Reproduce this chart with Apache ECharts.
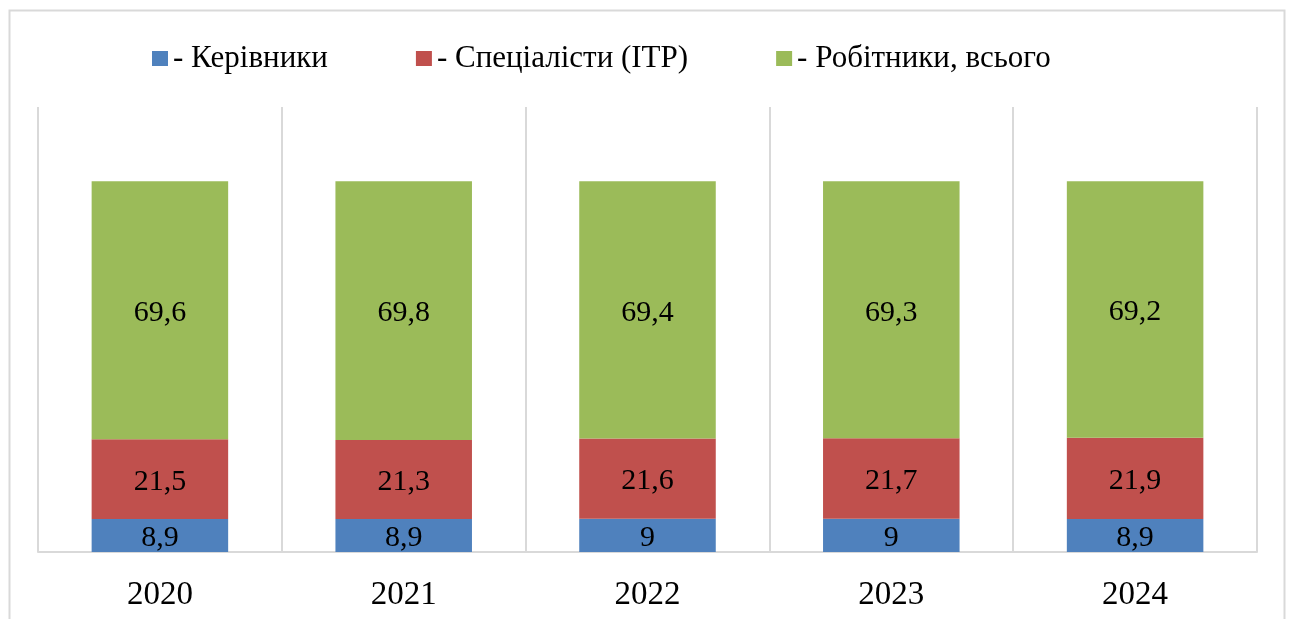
<!DOCTYPE html>
<html>
<head>
<meta charset="utf-8">
<script src="https://cdn.jsdelivr.net/npm/echarts@6/dist/echarts.min.js"></script>
<style>
  html, body { margin: 0; padding: 0; background: #fff; }
  #chart { width: 1289px; height: 619px; }
</style>
</head>
<body>
<div id="chart"></div>
<script>
const years = ['2020', '2021', '2022', '2023', '2024']
const seriesNames = ['- Керівники', '- Спеціалісти (ІТР)', '- Робітники, всього']
const managers = [8.9, 8.9, 9, 9, 8.9]
const specialists = [21.5, 21.3, 21.6, 21.7, 21.9]
const workers = [69.6, 69.8, 69.4, 69.3, 69.2]
const colors = ['#4f81bd', '#c0504d', '#9bbb59']

const font = '"Liberation Serif", "Times New Roman", serif'
const chart = echarts.init(document.getElementById('chart'))

const makeSeries = (name, data, i) => ({
  name,
  type: 'bar',
  stack: 'total',
  data,
  barWidth: '56%',
  itemStyle: { color: colors[i] },
  label: {
    show: true,
    position: 'inside',
    offset: [0, 3],
    color: '#000',
    fontFamily: font,
    fontSize: 30,
    formatter: p => String(p.value).replace('.', ',')
  }
})

chart.setOption({
  animation: false,
  graphic: [{
    type: 'rect',
    shape: { x: 9.5, y: 10.5, width: 1275, height: 700 },
    style: { fill: 'none', stroke: '#d9d9d9', lineWidth: 2 },
    z: -1
  }],
  legend: {
    top: 38,
    left: 147,
    icon: 'rect',
    itemWidth: 16,
    itemHeight: 15,
    itemGap: 88,
    textStyle: { fontFamily: font, fontSize: 31, color: '#000' },
    data: seriesNames
  },
  grid: { left: 38, right: 32, top: 107, bottom: 67 },
  xAxis: {
    type: 'category',
    data: years,
    axisLine: { lineStyle: { color: '#d9d9d9', width: 2 } },
    axisTick: { show: false },
    axisLabel: { fontFamily: font, fontSize: 33, color: '#000', margin: 27 },
    splitLine: { show: true, lineStyle: { color: '#d9d9d9', width: 2 } }
  },
  yAxis: {
    type: 'value',
    min: 0,
    max: 120,
    show: false
  },
  series: [
    makeSeries(seriesNames[0], managers, 0),
    makeSeries(seriesNames[1], specialists, 1),
    makeSeries(seriesNames[2], workers, 2)
  ]
})
</script>
</body>
</html>
